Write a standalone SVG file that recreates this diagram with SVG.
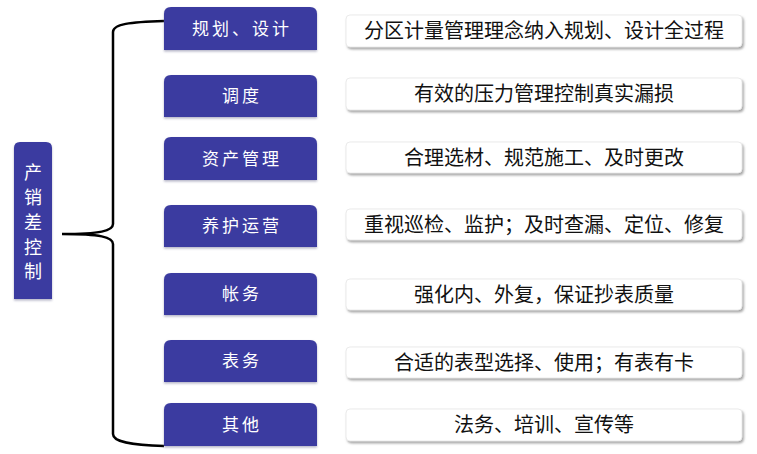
<svg xmlns="http://www.w3.org/2000/svg" width="757" height="454" viewBox="0 0 757 454">
<style>
.blue{fill:#3b3ba0;filter:url(#bs);}
.wbox{fill:#ffffff;stroke:#e6e6e6;stroke-width:0.8;filter:url(#ws);}
.bt{font-family:"Noto Sans CJK SC","Noto Sans CJK JP",sans-serif;font-size:17px;fill:#ffffff;text-anchor:middle;letter-spacing:3px;font-weight:400;}
.wt{font-family:"Noto Sans CJK SC","Noto Sans CJK JP",sans-serif;font-size:20px;fill:#111111;text-anchor:middle;}
.brace{fill:none;stroke:#000000;stroke-width:2.5;}
</style>
<defs>
<filter id="ws" x="-5%" y="-20%" width="110%" height="150%">
<feDropShadow dx="1.5" dy="2" stdDeviation="1.2" flood-color="#808080" flood-opacity="0.7"/>
</filter>
<filter id="bs" x="-5%" y="-10%" width="110%" height="130%">
<feDropShadow dx="0" dy="1.5" stdDeviation="1" flood-color="#8080a0" flood-opacity="0.6"/>
</filter>
</defs>
<g id="connectors">
<path class="brace" d="M164,21 C130,22 113,24 113,32 L113,224 C113,231 100,234 62,234 C100,234 113,237 113,244 L113,434 C113,442 130,445 164,446"/>
</g>
<g id="root">
<path class="blue" d="M14,148 Q14,142 20,142 L46,142 Q52,142 52,148 L52,299 L14,299 Z"/>
<g class="bt" style="letter-spacing:0;font-size:18px">
<text x="33" y="179">产</text>
<text x="33" y="204">销</text>
<text x="33" y="229">差</text>
<text x="33" y="254">控</text>
<text x="33" y="278">制</text>
</g>
</g>
<g id="n1">
<path class="blue" d="M164,14 Q164,7 171,7 L310,7 Q317,7 317,14 L317,50 L164,50 Z"/>
<text class="bt" x="242" y="35">规划、设计</text>
</g>
<g id="n2">
<path class="blue" d="M164,82 Q164,75 171,75 L310,75 Q317,75 317,82 L317,117 L164,117 Z"/>
<text class="bt" x="242" y="102">调度</text>
</g>
<g id="n3">
<path class="blue" d="M164,144 Q164,137 171,137 L310,137 Q317,137 317,144 L317,180 L164,180 Z"/>
<text class="bt" x="242" y="165">资产管理</text>
</g>
<g id="n4">
<path class="blue" d="M164,212 Q164,205 171,205 L310,205 Q317,205 317,212 L317,247 L164,247 Z"/>
<text class="bt" x="242" y="232">养护运营</text>
</g>
<g id="n5">
<path class="blue" d="M164,280 Q164,273 171,273 L310,273 Q317,273 317,280 L317,315 L164,315 Z"/>
<text class="bt" x="242" y="300">帐务</text>
</g>
<g id="n6">
<path class="blue" d="M164,347 Q164,340 171,340 L310,340 Q317,340 317,347 L317,382 L164,382 Z"/>
<text class="bt" x="242" y="367">表务</text>
</g>
<g id="n7">
<path class="blue" d="M164,410 Q164,403 171,403 L310,403 Q317,403 317,410 L317,446 L164,446 Z"/>
<text class="bt" x="242" y="431">其他</text>
</g>
<g id="d1">
<rect class="wbox" x="346" y="15" width="396" height="32" rx="4"/>
<text class="wt" x="544" y="38">分区计量管理理念纳入规划、设计全过程</text>
</g>
<g id="d2">
<rect class="wbox" x="346" y="78" width="396" height="32" rx="4"/>
<text class="wt" x="544" y="101">有效的压力管理控制真实漏损</text>
</g>
<g id="d3">
<rect class="wbox" x="346" y="142" width="396" height="31" rx="4"/>
<text class="wt" x="544" y="165">合理选材、规范施工、及时更改</text>
</g>
<g id="d4">
<rect class="wbox" x="346" y="209" width="396" height="31" rx="4"/>
<text class="wt" x="544" y="232">重视巡检、监护；及时查漏、定位、修复</text>
</g>
<g id="d5">
<rect class="wbox" x="346" y="279" width="396" height="31" rx="4"/>
<text class="wt" x="544" y="302">强化内、外复，保证抄表质量</text>
</g>
<g id="d6">
<rect class="wbox" x="346" y="347" width="396" height="31" rx="4"/>
<text class="wt" x="544" y="370">合适的表型选择、使用；有表有卡</text>
</g>
<g id="d7">
<rect class="wbox" x="346" y="409" width="396" height="32" rx="4"/>
<text class="wt" x="544" y="432">法务、培训、宣传等</text>
</g>
</svg>
